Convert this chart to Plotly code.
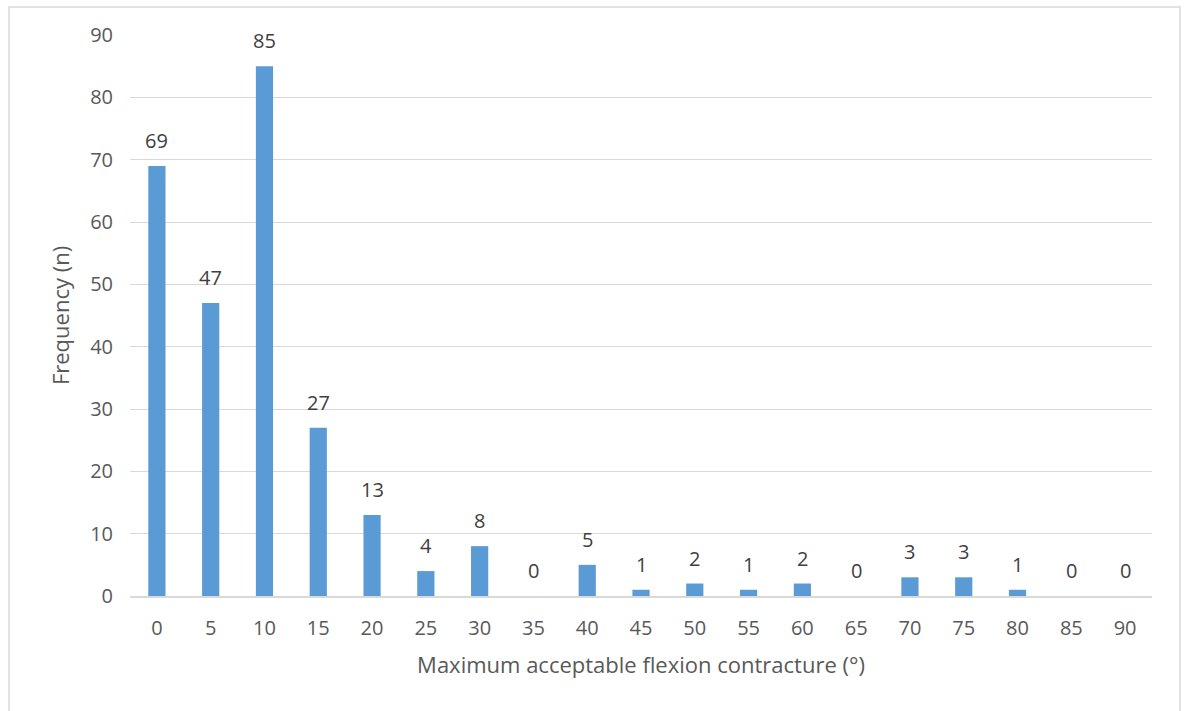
import plotly.graph_objects as go

# Maximum acceptable flexion contracture (degrees) and response counts
angles = [0, 5, 10, 15, 20, 25, 30, 35, 40, 45,
          50, 55, 60, 65, 70, 75, 80, 85, 90]
counts = [69, 47, 85, 27, 13, 4, 8, 0, 5, 1, 2, 1, 2, 0, 3, 3, 1, 0, 0]
y_ticks = [0, 10, 20, 30, 40, 50, 60, 70, 80, 90]

W, H = 1184, 711
L, R, T, B = 130, 32, 35, 115
pw = W - L - R
ph = H - T - B

def px_x(p):
    return (p - L) / pw

def px_y(p):
    return (H - B - p) / ph

FONT = "Open Sans, Noto Sans, sans-serif"
GREY = "#595959"
STEP = 5

fig = go.Figure(
    go.Bar(
        x=angles,
        y=counts,
        marker=dict(color="#5b9bd5", line=dict(width=0)),
        width=0.32 * STEP,
        cliponaxis=False,
    )
)

# value labels sitting above each bar
value_labels = [
    dict(x=a, y=c, xref="x", yref="y", text=str(c), showarrow=False,
         yanchor="bottom", yshift=10,
         font=dict(family=FONT, size=20, color="#404040"))
    for a, c in zip(angles, counts)
]

fig.update_layout(
    width=W,
    height=H,
    margin=dict(l=L, r=R, t=T, b=B),
    paper_bgcolor="white",
    plot_bgcolor="white",
    showlegend=False,
    font=dict(family=FONT, size=20, color=GREY),
    annotations=value_labels,
    xaxis=dict(
        type="linear",
        range=[angles[0] - STEP / 2, angles[-1] + STEP / 2],
        tickvals=angles,
        ticktext=[str(a) for a in angles],
        showgrid=False,
        zeroline=False,
        showline=True,
        linecolor="#d9d9d9",
        linewidth=1.5,
        ticks="",
        ticklabelstandoff=13,
        tickfont=dict(size=20, color=GREY),
        title=dict(text="Maximum acceptable flexion contracture (°)",
                   font=dict(size=22, color=GREY), standoff=18),
    ),
    yaxis=dict(
        range=[0, 90],
        tickvals=y_ticks,
        showgrid=True,
        gridcolor="#d9d9d9",
        gridwidth=1,
        zeroline=False,
        showline=False,
        ticks="",
        ticklabelstandoff=16,
        tickfont=dict(size=20, color=GREY),
        title=dict(text="Frequency (n)", font=dict(size=22, color=GREY), standoff=14),
    ),
    shapes=[
        dict(type="rect", xref="paper", yref="paper",
             x0=px_x(9), x1=px_x(1180), y0=px_y(730), y1=px_y(7),
             line=dict(color="#d9d9d9", width=1.5), layer="below"),
    ],
)

fig.write_html("out.html")
